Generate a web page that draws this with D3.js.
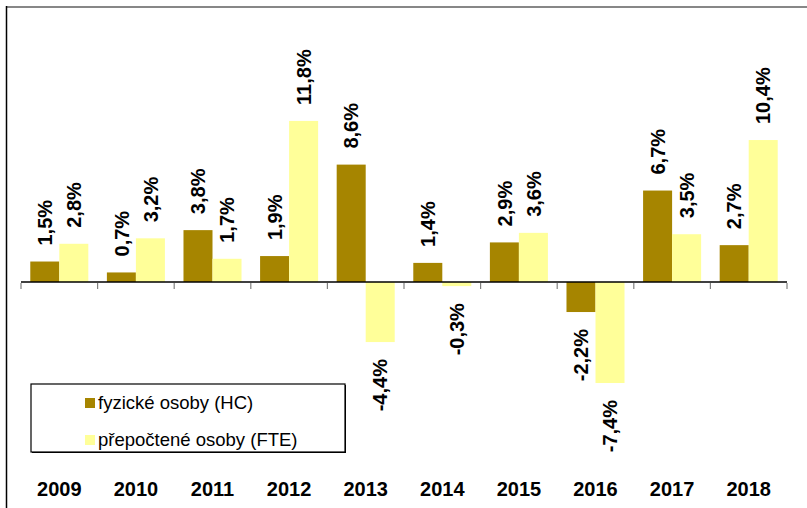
<!DOCTYPE html>
<html>
<head>
<meta charset="utf-8">
<script src="https://cdn.jsdelivr.net/npm/d3@7"></script>
<style>
  html, body { margin: 0; padding: 0; background: #fff; }
  svg { display: block; }
  text { font-family: "Liberation Sans", Arial, sans-serif; }
</style>
</head>
<body>
<svg id="chart" width="807" height="508"></svg>
<script>
const years = ["2009", "2010", "2011", "2012", "2013", "2014", "2015", "2016", "2017", "2018"];
const seriesNames = ["fyzické osoby (HC)", "přepočtené osoby (FTE)"];
const hcValues = [1.5, 0.7, 3.8, 1.9, 8.6, 1.4, 2.9, -2.2, 6.7, 2.7];
const fteValues = [2.8, 3.2, 1.7, 11.8, -4.4, -0.3, 3.6, -7.4, 3.5, 10.4];
const colors = ["#A68500", "#FFFF99"];

const svg = d3.select("#chart");
const W = 807, H = 508;

// frame lines
svg.append("line").attr("x1", 6).attr("x2", W).attr("y1", 7).attr("y2", 7)
  .attr("stroke", "#878787").attr("stroke-width", 2);
svg.append("line").attr("x1", 6.5).attr("x2", 6.5).attr("y1", 6).attr("y2", H)
  .attr("stroke", "#000").attr("stroke-width", 1.5);

const x0 = d3.scaleBand().domain(years).range([21, 787]).padding(0);
const x1 = d3.scaleBand().domain(seriesNames).range([0, x0.bandwidth()]).paddingInner(0).paddingOuter(0.32);
const y = d3.scaleLinear().domain([-8, 12]).range([282 + 8 * 13.65, 282 - 12 * 13.65]);

const data = years.map((yr, i) => ({ year: yr, vals: [
  { s: seriesNames[0], v: hcValues[i], c: colors[0] },
  { s: seriesNames[1], v: fteValues[i], c: colors[1] }
]}));

const groups = svg.append("g").selectAll("g").data(data).join("g")
  .attr("transform", d => `translate(${x0(d.year)},0)`);

groups.selectAll("rect").data(d => d.vals).join("rect")
  .attr("x", d => x1(d.s))
  .attr("width", x1.bandwidth())
  .attr("y", d => y(Math.max(0, d.v)))
  .attr("height", d => Math.abs(y(d.v) - y(0)))
  .attr("fill", d => d.c);

// axis
const axis = d3.axisBottom(x0).tickSize(0).tickFormat("");
const gAxis = svg.append("g").attr("transform", `translate(0,${y(0)})`).call(axis);
gAxis.select(".domain").attr("stroke", "#000").attr("stroke-width", 1.5).attr("d", `M21,0H787`);
// tick marks at band boundaries
const bounds = years.map(yr => x0(yr)).concat([x0(years[years.length - 1]) + x0.bandwidth()]);
svg.append("g").selectAll("line").data(bounds).join("line")
  .attr("x1", d => d).attr("x2", d => d)
  .attr("y1", y(0) + 1).attr("y2", y(0) + 7)
  .attr("stroke", "#808080").attr("stroke-width", 1.2);

// year labels
svg.append("g").selectAll("text").data(years).join("text")
  .attr("x", d => x0(d) + x0.bandwidth() / 2)
  .attr("y", 496)
  .attr("text-anchor", "middle")
  .attr("font-size", 20)
  .attr("font-weight", "bold")
  .attr("fill", "#000")
  .text(d => d);

// value labels
const fmt = v => v.toFixed(1).replace(".", ",") + "%";
groups.selectAll("text").data(d => d.vals).join("text")
  .attr("transform", d => {
    const cx = x1(d.s) + x1.bandwidth() / 2;
    const yy = d.v >= 0 ? y(d.v) - 16 : y(d.v) + 17;
    return `translate(${cx},${yy}) rotate(-90)`;
  })
  .attr("dy", "0.36em")
  .attr("text-anchor", d => d.v >= 0 ? "start" : "end")
  .attr("font-size", 20)
  .attr("font-weight", "bold")
  .attr("fill", "#000")
  .text(d => fmt(d.v));

// legend
const lg = svg.append("g");
lg.append("rect").attr("x", 32).attr("y", 385).attr("width", 314).attr("height", 68)
  .attr("fill", "#000");
lg.append("rect").attr("x", 31).attr("y", 384).attr("width", 314).attr("height", 68)
  .attr("fill", "#fff").attr("stroke", "#000").attr("stroke-width", 1.2);
const items = lg.selectAll("g").data(seriesNames).join("g")
  .attr("transform", (d, i) => `translate(85,${398 + i * 37})`);
items.append("rect").attr("width", 10).attr("height", 10).attr("fill", (d, i) => colors[i]);
items.append("text").attr("x", 13).attr("y", 10.5).attr("font-size", 18.5).attr("fill", "#000").text(d => d);
</script>
</body>
</html>
